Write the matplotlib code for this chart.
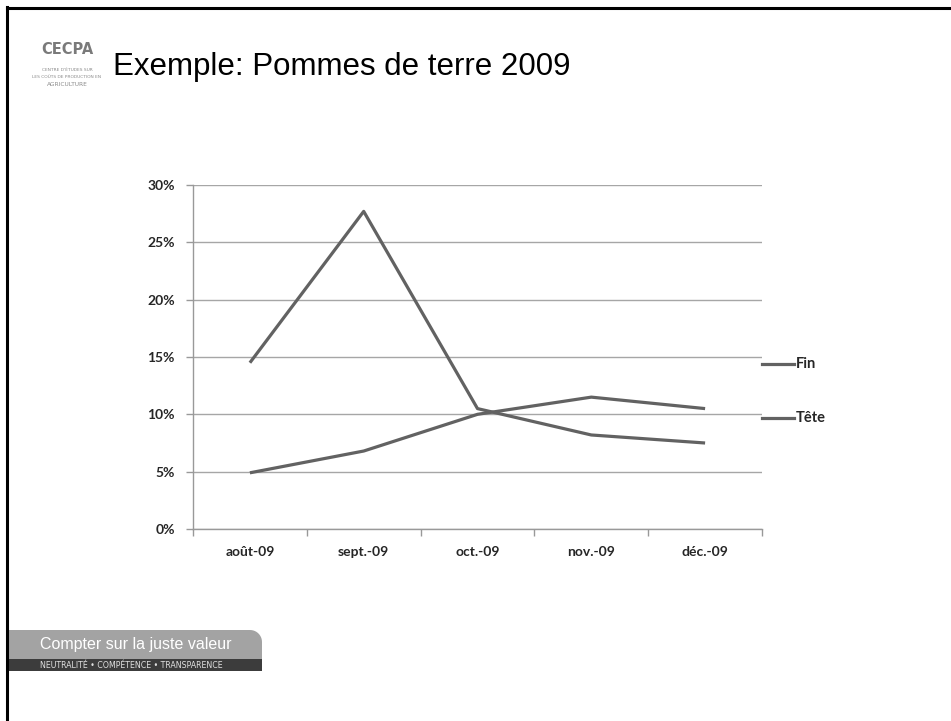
import numpy as np
import matplotlib
matplotlib.use("Agg")
import matplotlib.pyplot as plt
from matplotlib.patches import Rectangle, PathPatch
from matplotlib.path import Path
from matplotlib.lines import Line2D

# Data
months = ["août-09", "sept.-09", "oct.-09", "nov.-09", "déc.-09"]
fin = [0.145, 0.277, 0.105, 0.082, 0.075]
tete = [0.049, 0.068, 0.100, 0.115, 0.105]
series_names = ["Fin", "Tête"]
y_ticks = [0.0, 0.05, 0.10, 0.15, 0.20, 0.25, 0.30]
y_tick_labels = ["0%", "5%", "10%", "15%", "20%", "25%", "30%"]

W, H = 951, 721
fig = plt.figure(figsize=(W / 100, H / 100), dpi=100)
fig.patch.set_facecolor("white")

def fx(px):
    return px / W

def fy(py):
    return 1 - py / H

# slide frame (left and top rules)
fig.add_artist(Line2D([fx(7), fx(7)], [0, fy(7)], color="black", lw=2.2, transform=fig.transFigure))
fig.add_artist(Line2D([fx(7), 1], [fy(8), fy(8)], color="black", lw=2.2, transform=fig.transFigure))

# logo
fig.text(fx(67), fy(50), "CECPA", fontsize=10.5, fontweight="bold", color="#7a7a7a",
         ha="center", va="center", family="DejaVu Sans")
for i, s in enumerate(["CENTRE D'ÉTUDES SUR", "LES COÛTS DE PRODUCTION EN", "AGRICULTURE"]):
    fig.text(fx(67), fy(70 + i * 7), s, fontsize=3.2 if i < 2 else 4.2, color="#8a8a8a",
             ha="center", va="center", family="DejaVu Sans")

# title
fig.text(fx(113), fy(74.5), "Exemple: Pommes de terre 2009", fontsize=22.5, color="black",
         ha="left", va="baseline", family="Liberation Sans")

# main axes
ax = fig.add_axes([fx(193), fy(529), fx(762) - fx(193), fy(185) - fy(529)])
x = list(range(len(months)))
line_color = "#626262"
ax.plot(x, fin, color=line_color, lw=2.3, solid_capstyle="butt", label=series_names[0])
ax.plot(x, tete, color=line_color, lw=2.3, solid_capstyle="butt", label=series_names[1])

ax.set_xlim(-0.5, len(months) - 0.5)
ax.set_ylim(0, 0.30)
ax.set_yticks(y_ticks)
ax.set_yticklabels(y_tick_labels)
ax.set_xticks(x)
ax.set_xticklabels(months)
ax.set_xticks([i - 0.5 for i in range(len(months) + 1)], minor=True)
ax.tick_params(axis="x", which="major", length=0, pad=12)
ax.tick_params(axis="x", which="minor", length=5, color="#999999", width=1)
ax.tick_params(axis="y", length=5, color="#999999", width=1, pad=8)
for lbl in ax.get_xticklabels() + ax.get_yticklabels():
    lbl.set_fontfamily("Lato")
    lbl.set_fontweight("bold")
    lbl.set_fontsize(10)
    lbl.set_color("#262626")

ax.grid(axis="y", color="#a6a6a6", lw=1)
ax.set_axisbelow(True)
for side in ["top", "right"]:
    ax.spines[side].set_visible(False)
for side in ["left", "bottom"]:
    ax.spines[side].set_color("#999999")
    ax.spines[side].set_linewidth(1)

# legend drawn to the right of the plot
for name, py in zip(series_names, [364, 418]):
    fig.add_artist(Line2D([fx(762), fx(794)], [fy(py), fy(py)], color=line_color, lw=2.3,
                          transform=fig.transFigure))
    fig.text(fx(796), fy(py), name, fontsize=10.5, fontweight="bold", family="Lato",
             color="#262626", ha="left", va="center")

# footer banner: grey tab with rounded top-right corner over a dark strip
x0, x1, ytop, ybot, r = 7, 262, 630, 660, 12
theta = np.linspace(np.pi / 2, 0, 12)
arc = [(x1 - r + r * np.cos(t), ytop + r - r * np.sin(t)) for t in theta]
verts = [(x0, ybot), (x0, ytop)] + arc + [(x1, ybot), (x0, ybot)]
verts = [(fx(a), fy(b)) for a, b in verts]
codes = [Path.MOVETO] + [Path.LINETO] * (len(verts) - 2) + [Path.CLOSEPOLY]
fig.add_artist(PathPatch(Path(verts, codes), transform=fig.transFigure,
                         facecolor="#a3a3a3", edgecolor="none"))
fig.add_artist(Rectangle((fx(7), fy(671)), fx(255), fy(659) - fy(671),
                         transform=fig.transFigure, facecolor="#3c3c3c", edgecolor="none"))
fig.text(fx(40), fy(645), "Compter sur la juste valeur", fontsize=11.5, color="white",
         ha="left", va="center", family="Liberation Sans")
fig.text(fx(40), fy(665), "NEUTRALITÉ • COMPÉTENCE • TRANSPARENCE", fontsize=5.7,
         color="#e0e0e0", ha="left", va="center", family="DejaVu Sans")

fig.savefig("out.png", dpi=100, facecolor="white")
